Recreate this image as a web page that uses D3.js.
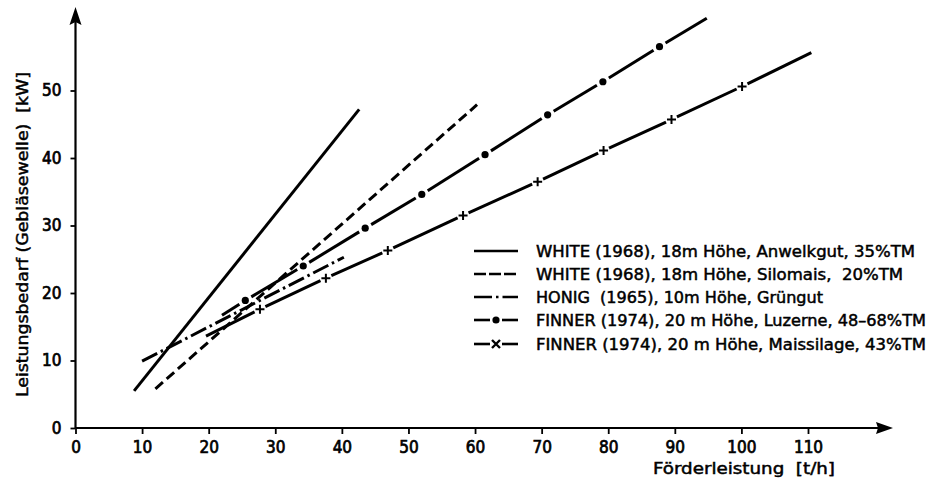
<!DOCTYPE html>
<html>
<head>
<meta charset="utf-8">
<script src="https://cdn.jsdelivr.net/npm/d3@7"></script>
<style>
  body { margin: 0; background: #fff; }
  text { font-family: "DejaVu Sans Condensed", "DejaVu Sans", sans-serif; fill: #000; }
</style>
</head>
<body>
<script>
const w = 929;
const h = 486;

// axis ticks
const xTicks = [0, 10, 20, 30, 40, 50, 60, 70, 80, 90, 100, 110];
const yTicks = [0, 10, 20, 30, 40, 50];

// WHITE (1968) Anwelkgut - solid
const whiteAnwelkX = [8.8, 42.6];
const whiteAnwelkY = [5.5, 47.2];
// WHITE (1968) Silomais - dashed
const whiteSiloX = [12.0, 60.3];
const whiteSiloY = [5.8, 47.9];
// HONIG (1965) - dash dot
const honigX = [10.0, 40.3];
const honigY = [9.9, 25.3];
// FINNER Luzerne - dots (first and last are line ends)
const luzerneX = [22.0, 25.5, 34.2, 43.5, 52.0, 61.5, 70.9, 79.2, 87.7, 94.8];
const luzerneY = [16.7, 18.9, 24.0, 29.6, 34.6, 40.5, 46.4, 51.3, 56.5, 60.7];
// FINNER Maissilage - crosses (first and last are line ends)
const maisX = [19.6, 27.7, 37.6, 46.9, 58.2, 69.4, 79.3, 89.5, 100.1, 110.5];
const maisY = [13.6, 17.6, 22.2, 26.3, 31.5, 36.5, 41.1, 45.7, 50.6, 55.6];

const legendLabels = [
  "WHITE (1968), 18m Höhe, Anwelkgut, 35%TM",
  "WHITE (1968), 18m Höhe, Silomais,\u00a0\u00a020%TM",
  "HONIG\u00a0\u00a0(1965), 10m Höhe, Grüngut",
  "FINNER (1974), 20 m Höhe, Luzerne, 48–68%TM",
  "FINNER (1974), 20 m Höhe, Maissilage, 43%TM"
];
const legendWidths = [379, 367, 287, 390, 390];

const xScale = d3.scaleLinear().domain([0, 110]).range([75.5, 808]);
const yScale = d3.scaleLinear().domain([0, 50]).range([428, 90.5]);

const svg = d3.select("body").append("svg")
  .attr("width", w)
  .attr("height", h);

// axes lines with arrows
svg.append("line")
  .attr("x1", xScale(0)).attr("y1", yScale(0))
  .attr("x2", 885).attr("y2", yScale(0))
  .attr("stroke", "#000").attr("stroke-width", 2.2);
svg.append("path")
  .attr("d", `M893,${yScale(0)} L876,${yScale(0) - 6} L878,${yScale(0)} L876,${yScale(0) + 6} Z`)
  .attr("fill", "#000");
svg.append("line")
  .attr("x1", xScale(0)).attr("y1", yScale(0))
  .attr("x2", xScale(0)).attr("y2", 20)
  .attr("stroke", "#000").attr("stroke-width", 2.2);
svg.append("path")
  .attr("d", `M${xScale(0)},7 L${xScale(0) - 6},25 L${xScale(0)},22 L${xScale(0) + 6},25 Z`)
  .attr("fill", "#000");

const xAxis = d3.axisBottom(xScale)
  .tickValues(xTicks)
  .tickSize(6)
  .tickPadding(7)
  .tickFormat(d3.format("d"));
const yAxis = d3.axisLeft(yScale)
  .tickValues(yTicks)
  .tickSize(5)
  .tickPadding(9)
  .tickFormat(d3.format("d"));

const gx = svg.append("g")
  .attr("transform", "translate(0," + yScale(0) + ")")
  .call(xAxis);
const gy = svg.append("g")
  .attr("transform", "translate(" + xScale(0) + ",0)")
  .call(yAxis);
[gx, gy].forEach(g => {
  g.select(".domain").remove();
  g.selectAll(".tick line").attr("stroke", "#000").attr("stroke-width", 1.8);
  g.selectAll(".tick text")
    .attr("font-size", 17)
    .attr("stroke", "#000")
    .attr("stroke-width", 0.7)
    .attr("font-family", "'DejaVu Sans Condensed', sans-serif");
});

// axis titles
svg.append("text")
  .attr("x", 653).attr("y", 474)
  .attr("font-size", 16)
  .attr("stroke", "#000").attr("stroke-width", 0.45)
  .attr("textLength", 182)
  .attr("lengthAdjust", "spacingAndGlyphs")
  .text("Förderleistung\u00a0\u00a0[t/h]");
svg.append("text")
  .attr("transform", "translate(28,397) rotate(-90)")
  .attr("font-size", 16)
  .attr("stroke", "#000").attr("stroke-width", 0.45)
  .attr("textLength", 325)
  .attr("lengthAdjust", "spacingAndGlyphs")
  .text("Leistungsbedarf (Gebläsewelle)\u00a0\u00a0[kW]");

const lineW = 3;
const toPts = (xs, ys) => xs.map((x, i) => [xScale(x), yScale(ys[i])]);

// simple lines
const simple = [
  { xs: whiteAnwelkX, ys: whiteAnwelkY, dash: null },
  { xs: whiteSiloX, ys: whiteSiloY, dash: "10,5" },
  { xs: honigX, ys: honigY, dash: "17,4,2.5,4" }
];
simple.forEach(s => {
  svg.append("path")
    .attr("d", d3.line()(toPts(s.xs, s.ys)))
    .attr("fill", "none")
    .attr("stroke", "#000")
    .attr("stroke-width", lineW)
    .attr("stroke-dasharray", s.dash);
});

// marker lines: segments with gaps around markers
function markerLine(xs, ys, gap) {
  const pts = toPts(xs, ys);
  for (let i = 0; i < pts.length - 1; i++) {
    const [x0, y0] = pts[i], [x1, y1] = pts[i + 1];
    const len = Math.hypot(x1 - x0, y1 - y0);
    const ux = (x1 - x0) / len, uy = (y1 - y0) / len;
    const g0 = i === 0 ? 0 : gap;
    const g1 = i + 1 === pts.length - 1 ? 0 : gap;
    svg.append("line")
      .attr("x1", x0 + ux * g0).attr("y1", y0 + uy * g0)
      .attr("x2", x1 - ux * g1).attr("y2", y1 - uy * g1)
      .attr("stroke", "#000")
      .attr("stroke-width", lineW);
  }
  return pts.slice(1, -1);
}

markerLine(luzerneX, luzerneY, 7).forEach(([x, y]) => {
  svg.append("circle").attr("cx", x).attr("cy", y).attr("r", 3.6).attr("fill", "#000");
});
markerLine(maisX, maisY, 6).forEach(([x, y]) => {
  svg.append("path")
    .attr("d", `M${x - 4.5},${y} L${x + 4.5},${y} M${x},${y - 4.5} L${x},${y + 4.5}`)
    .attr("stroke", "#000")
    .attr("stroke-width", 2);
});

// legend
const legendY = [251, 274, 297, 320, 344];
const lx0 = 474, lx1 = 518;
const lg = svg.append("g");
legendLabels.forEach((label, i) => {
  const y = legendY[i];
  const mx = (lx0 + lx1) / 2;
  if (i < 3) {
    lg.append("line")
      .attr("x1", lx0).attr("y1", y).attr("x2", lx1).attr("y2", y)
      .attr("stroke", "#000").attr("stroke-width", 2.6)
      .attr("stroke-dasharray", i === 0 ? null : i === 1 ? "12,3" : "18,4,2.5,4");
  } else {
    lg.append("line").attr("x1", lx0).attr("y1", y).attr("x2", mx - 6).attr("y2", y)
      .attr("stroke", "#000").attr("stroke-width", 2.6);
    lg.append("line").attr("x1", mx + 6).attr("y1", y).attr("x2", lx1).attr("y2", y)
      .attr("stroke", "#000").attr("stroke-width", 2.6);
    if (i === 3) {
      lg.append("circle").attr("cx", mx).attr("cy", y).attr("r", 3.6).attr("fill", "#000");
    } else {
      lg.append("path")
        .attr("d", `M${mx - 4},${y - 4} L${mx + 4},${y + 4} M${mx - 4},${y + 4} L${mx + 4},${y - 4}`)
        .attr("stroke", "#000").attr("stroke-width", 2.4);
    }
  }
  lg.append("text")
    .attr("x", 536).attr("y", y + 6)
    .attr("font-size", 16)
    .attr("stroke", "#000").attr("stroke-width", 0.45)
    .attr("textLength", legendWidths[i])
    .attr("lengthAdjust", "spacingAndGlyphs")
    .text(label);
});
</script>
</body>
</html>
